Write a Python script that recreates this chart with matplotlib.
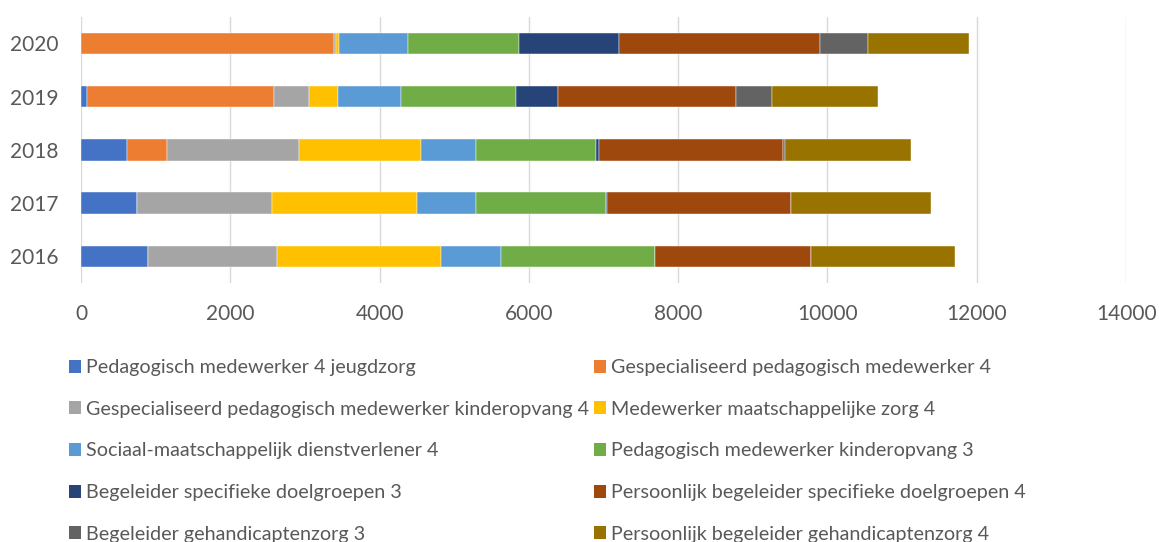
import matplotlib
matplotlib.use("Agg")
import matplotlib.pyplot as plt
from matplotlib.patches import Patch

plt.rcParams['font.family'] = ['Lato', 'DejaVu Sans']

years = ["2016", "2017", "2018", "2019", "2020"]

series_names = [
    "Pedagogisch medewerker 4 jeugdzorg",
    "Gespecialiseerd pedagogisch medewerker 4",
    "Gespecialiseerd pedagogisch medewerker kinderopvang 4",
    "Medewerker maatschappelijke zorg 4",
    "Sociaal-maatschappelijk dienstverlener 4",
    "Pedagogisch medewerker kinderopvang 3",
    "Begeleider specifieke doelgroepen 3",
    "Persoonlijk begeleider specifieke doelgroepen 4",
    "Begeleider gehandicaptenzorg 3",
    "Persoonlijk begeleider gehandicaptenzorg 4",
]

# values per series, order: 2016, 2017, 2018, 2019, 2020
ped_jeugd = [900, 752, 618, 82, 0]
gesp_ped = [0, 0, 536, 2503, 3394]
gesp_kinder = [1724, 1809, 1766, 474, 20]
mw_maatsch = [2201, 1939, 1632, 388, 40]
sociaal = [795, 798, 746, 842, 930]
ped_kinder3 = [2067, 1730, 1601, 1541, 1484]
beg_doel3 = [0, 15, 45, 555, 1342]
pb_doel4 = [2086, 2470, 2466, 2383, 2688]
beg_gehand3 = [0, 0, 23, 487, 640]
pb_gehand4 = [1939, 1872, 1692, 1415, 1358]

values = [ped_jeugd, gesp_ped, gesp_kinder, mw_maatsch, sociaal,
          ped_kinder3, beg_doel3, pb_doel4, beg_gehand3, pb_gehand4]

colors = ["#4472C4", "#ED7D31", "#A5A5A5", "#FFC000", "#5B9BD5",
          "#70AD47", "#264478", "#9E480E", "#636363", "#997300"]

text_color = "#595959"

fig = plt.figure(figsize=(11.59, 5.42), dpi=100)
ax = fig.add_axes([0.0699, 0.478, 0.9017, 0.491])

left = [0] * len(years)
for name, vals, col in zip(series_names, values, colors):
    ax.barh(years, vals, left=left, height=0.4, color=col,
            edgecolor="white", linewidth=0.3, label=name, zorder=3)
    left = [a + b for a, b in zip(left, vals)]

ax.set_xlim(0, 14000)
ax.set_ylim(-0.5, 4.5)
ax.set_xticks(range(0, 14001, 2000))
ax.grid(axis="x", color="#D9D9D9", linewidth=1.0, zorder=0)
for s in ax.spines.values():
    s.set_visible(False)
ax.tick_params(axis="both", length=0, colors=text_color, labelsize=15)
ax.tick_params(axis="x", pad=15)
ax.tick_params(axis="y", pad=16)

# legend, filled row by row like the original
order = [0, 2, 4, 6, 8, 1, 3, 5, 7, 9]
handles = [Patch(facecolor=colors[i]) for i in order]
labels = [series_names[i] for i in order]
leg = fig.legend(handles, labels, ncol=2, loc="upper left",
                 bbox_to_anchor=(0.0525, 0.352), frameon=False,
                 fontsize=14.2, labelcolor=text_color,
                 handlelength=0.62, handleheight=0.62, handletextpad=0.25,
                 columnspacing=0.25, labelspacing=1.25, borderaxespad=0)

fig.savefig("out.png", dpi=100)
